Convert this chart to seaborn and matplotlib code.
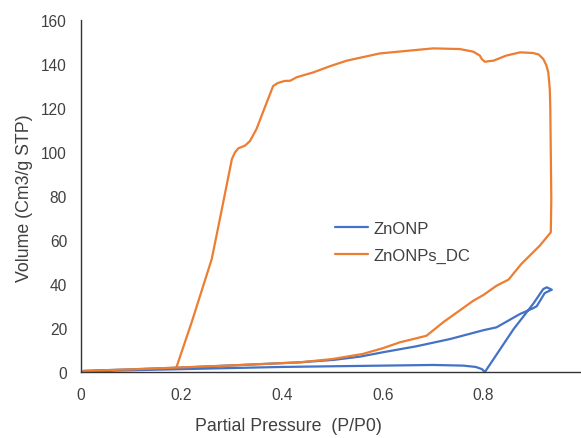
import matplotlib
matplotlib.use("Agg")
import matplotlib.pyplot as plt
import seaborn as sns
import pandas as pd
from matplotlib.ticker import MultipleLocator
from matplotlib.lines import Line2D

# ZnONP isotherm (path order)
znonp_x = [0.005, 0.1, 0.2, 0.3, 0.4, 0.5, 0.6, 0.7, 0.76, 0.785, 0.797, 0.803,
           0.86, 0.899, 0.919, 0.926, 0.936, 0.922, 0.906, 0.899, 0.873, 0.826,
           0.8, 0.734, 0.667, 0.601, 0.555, 0.502, 0.435, 0.3, 0.2, 0.1, 0.005]
znonp_y = [0.3, 0.8, 1.3, 1.8, 2.3, 2.6, 2.9, 3.2, 2.9, 2.3, 1.3, 0.0,
           19.5, 31.0, 37.7, 38.5, 37.4, 35.9, 29.9, 29.0, 26.4, 20.3,
           19.0, 15.0, 11.7, 9.0, 7.0, 5.5, 4.4, 3.0, 2.0, 1.2, 0.5]

# ZnONPs_DC isotherm (path order)
dc_x = [0.005, 0.1, 0.19, 0.3, 0.435, 0.5, 0.56, 0.6, 0.634, 0.661, 0.687, 0.72,
        0.75, 0.78, 0.80, 0.826, 0.85, 0.875, 0.912, 0.934,
        0.935, 0.933, 0.932, 0.929, 0.925, 0.919, 0.91, 0.899, 0.873, 0.845, 0.82,
        0.808, 0.803, 0.797, 0.793, 0.78, 0.753, 0.70, 0.594, 0.528, 0.495, 0.462,
        0.429, 0.416, 0.405, 0.396, 0.39, 0.382, 0.365, 0.349, 0.336, 0.326,
        0.313, 0.306, 0.30, 0.28, 0.26, 0.22, 0.19]
dc_y = [0.5, 1.2, 2.0, 3.0, 4.4, 5.9, 8.2, 10.8, 13.5, 15.0, 16.5, 22.6,
        27.5, 32.4, 35.0, 39.2, 42.0, 49.0, 57.4, 63.5,
        78.6, 120.0, 128.6, 136.2, 139.5, 142.3, 144.3, 145.0, 145.3, 143.8, 141.5,
        141.2, 141.0, 142.2, 143.8, 145.6, 146.8, 147.1, 144.8, 141.5, 139.0, 136.2,
        134.0, 132.4, 132.3, 131.7, 131.2, 130.0, 120.0, 110.5, 105.0, 102.9,
        101.7, 99.8, 96.8, 74.0, 51.4, 22.6, 2.3]

series_names = ["ZnONP", "ZnONPs_DC"]
colors = {"ZnONP": "#4472C4", "ZnONPs_DC": "#ED7D31"}

df = pd.concat([
    pd.DataFrame({"x": znonp_x, "y": znonp_y, "s": "ZnONP"}),
    pd.DataFrame({"x": dc_x, "y": dc_y, "s": "ZnONPs_DC"}),
])

sns.set_style("white")
plt.rcParams["font.family"] = ["Liberation Sans", "DejaVu Sans"]

fig = plt.figure(figsize=(5.81, 4.39), dpi=100)
ax = fig.add_axes([81/581, 66/439, 503/581, 352/439])

for name in series_names:
    sub = df[df["s"] == name]
    sns.lineplot(data=sub, x="x", y="y", sort=False, estimator=None,
                 color=colors[name], linewidth=1.6, ax=ax, legend=False)

ax.set_xlim(0, 1)
ax.set_ylim(0, 160)
ax.xaxis.set_minor_locator(MultipleLocator(0.04))
ax.yaxis.set_major_locator(MultipleLocator(20))
ax.yaxis.set_minor_locator(MultipleLocator(4))
ax.set_xticks([0, 0.2, 0.4, 0.6, 0.8, 1.0])
ax.set_xticklabels(["0", "0.2", "0.4", "0.6", "0.8", "1"])

for sp in ["top", "right"]:
    ax.spines[sp].set_visible(False)
for sp in ["left", "bottom"]:
    ax.spines[sp].set_color("#333333")
    ax.spines[sp].set_linewidth(1.0)

ax.tick_params(axis="both", which="major", direction="inout", length=8, width=1,
               color="#333333", labelsize=11.2, labelcolor="#404040")
ax.tick_params(axis="y", which="major", pad=6)
ax.tick_params(axis="x", which="major", pad=7)
ax.tick_params(axis="y", which="minor", direction="inout", length=4, width=0.8, color="#333333")
ax.tick_params(axis="x", which="minor", direction="in", length=4, width=0.8, color="#333333")

ax.set_xlabel("Partial Pressure  (P/P0)", fontsize=12.8, color="#404040", va="top")
ax.set_ylabel("Volume (Cm3/g STP)", fontsize=12.8, color="#404040")
ax.xaxis.set_label_coords(0.4115, -0.128)
ax.yaxis.set_label_coords(-0.095, 0.497)
ax.grid(False)

handles = [Line2D([0], [0], color=colors[n], linewidth=1.6) for n in series_names]
fig.legend(handles, series_names, loc="center left",
           bbox_to_anchor=(335/581, 1 - 243/439), bbox_transform=fig.transFigure,
           frameon=False, fontsize=12, labelcolor="#404040",
           handlelength=2.0, handletextpad=0.3, labelspacing=0.7,
           borderpad=0, borderaxespad=0)

fig.savefig("out.png", dpi=100)
